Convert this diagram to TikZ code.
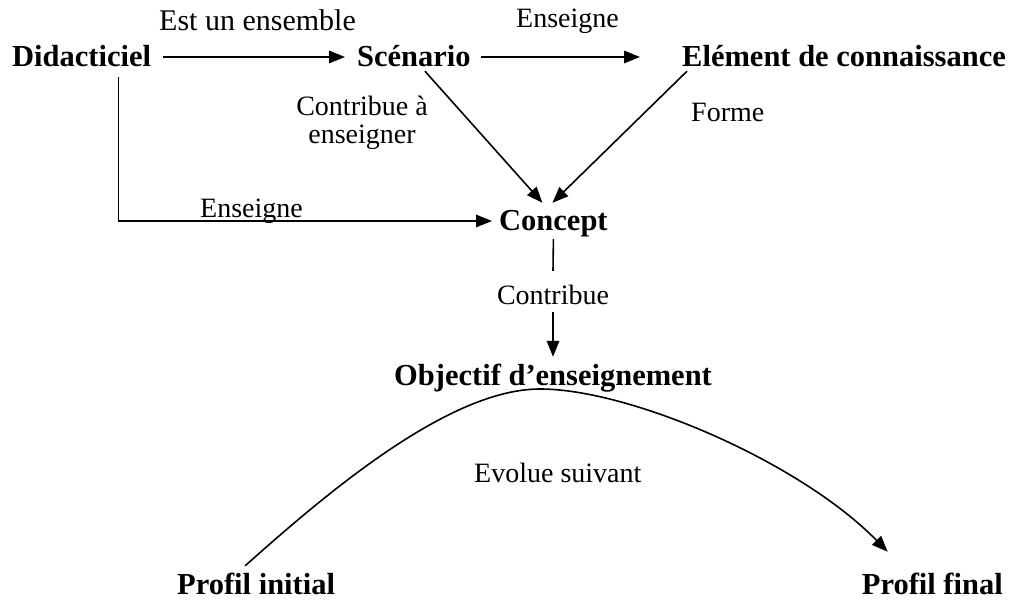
\documentclass[tikz,border=0pt]{standalone}
\usepackage{fontspec}
\setmainfont[Ligatures=NoCommon]{Liberation Serif}
\usetikzlibrary{arrows.meta}
\begin{document}
\begin{tikzpicture}[x=1pt,y=-1pt,
  concept/.style={inner sep=0pt, text height=24pt, text depth=4pt,
                  font=\fontsize{30.5}{34}\selectfont\bfseries},
  rel/.style={inner sep=0pt, font=\fontsize{28}{28}\selectfont},
  link/.style={line width=1.6pt},
  arr/.style={link, -{Triangle[length=16pt,width=12.5pt]}}]
\useasboundingbox (0,0) rectangle (1011,601);

% concepts
\node[concept, anchor=base west] (D)  at (12,67)   {Didacticiel};
\node[concept, anchor=base west] (S)  at (357,67)  {Scénario};
\node[concept, anchor=base west] (E)  at (682,67)  {Elément de connaissance};
\node[concept, anchor=base west] (C)  at (499,231) {Concept};
\node[concept, anchor=base west] (O)  at (394,385) {Objectif d’enseignement};
\node[concept, anchor=base west] (PI) at (177,594) {Profil initial};
\node[concept, anchor=base east] (PF) at (1003,594) {Profil final};

% relation labels
\node[rel, anchor=base west, font=\fontsize{30}{30}\selectfont] (l1) at (159,31) {Est un ensemble};
\node[rel, anchor=base west] (l2) at (516,28)  {Enseigne};
\node[rel, anchor=north, align=center] (l3) at (362,95.5) {Contribue à\\enseigner};
\node[rel, anchor=base west] (l4) at (691,122) {Forme};
\node[rel, anchor=base west] (l5) at (200,218) {Enseigne};
\node[rel, anchor=base, text height=20pt, text depth=6pt] (lc) at (553,305) {Contribue};
\node[rel, anchor=base west] (l6) at (474,482) {Evolue suivant};

% connectors
\draw[arr] ([xshift=12pt]D.east) -- ([xshift=-12pt]S.west);
\draw[arr] ([xshift=10pt]S.east) -- ([xshift=-42pt]E.west);
\draw[arr] ([xshift=11pt]S.south) -- ([xshift=-11pt,yshift=4pt]C.north);
\draw[arr] ([xshift=5pt]E.south west) -- ([xshift=-1pt,yshift=4pt]C.north);
\draw[arr] ([xshift=37pt,yshift=-6pt]D.south) |- ([xshift=-7pt]C.west);
\draw[link] ([yshift=-4pt]C.south) -- ([yshift=14pt]lc.north);
\draw[arr] ([yshift=-1pt]lc.south) -- ([yshift=4pt]O.north);
\draw[arr] ([xshift=-11pt,yshift=4pt]PI.north)
  .. controls (330,490) and (450,389) .. (540,389)
  .. controls (630,389) and (800,462) .. ([xshift=26pt,yshift=18pt]PF.north west);
\end{tikzpicture}
\end{document}
